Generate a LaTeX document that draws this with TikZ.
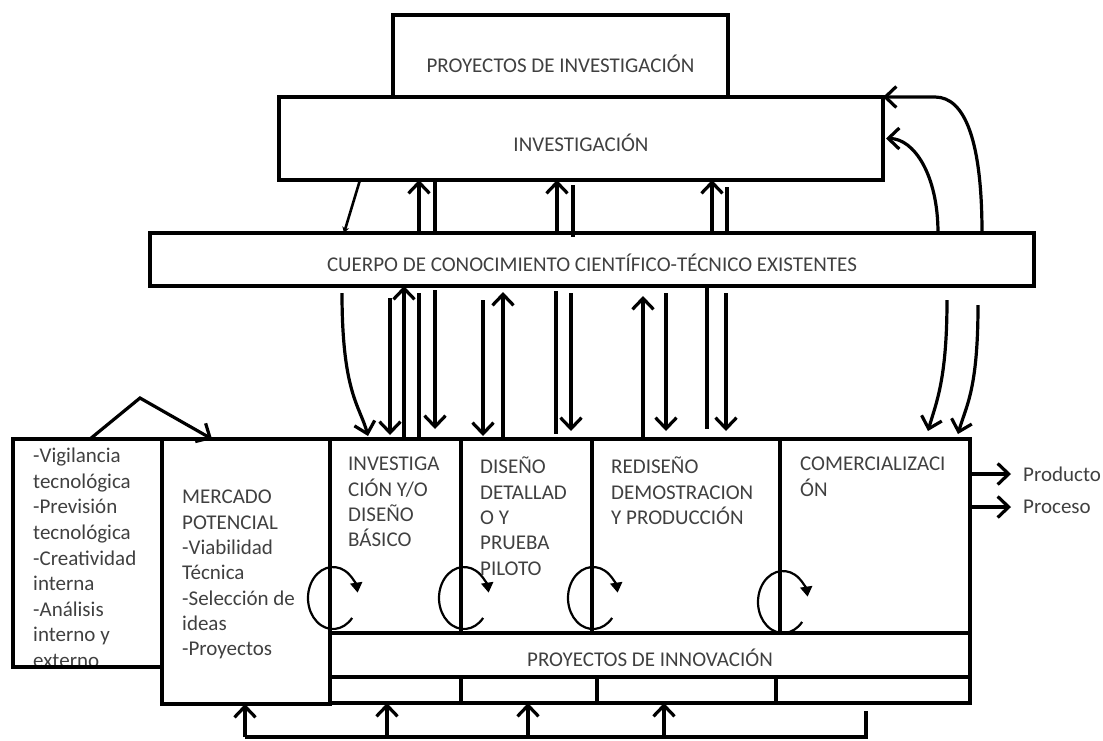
\documentclass[tikz,border=0pt]{standalone}
\usepackage{fontspec}
\setmainfont{Carlito}
\usetikzlibrary{arrows.meta}
\newcommand\fs{\fontsize{21}{25.3}\selectfont}
\begin{document}
\begin{tikzpicture}[x=1pt,y=-1pt,
  box/.style={draw,line width=3.3pt,inner sep=0pt,outer sep=0pt,anchor=north west},
  txt/.style={font=\fs,text=black!75,inner sep=0pt},
  ln/.style={line width=3.2pt},
  arr/.style={line width=3.2pt,-{Straight Barb[length=11pt,width=21pt]}},
  small/.style={line width=2.6pt,-{Stealth[length=6pt,width=7pt]}},
  loopa/.style={line width=2.2pt,-{Triangle[length=10pt,width=12pt]}}]
\useasboundingbox (0,0) rectangle (1103,740);

% boxes
\node[box,minimum width=335pt,minimum height=82pt] (pinv) at (393,15) {};
\node[box,fill=white,minimum width=604pt,minimum height=83pt] (inv) at (279,97) {};
\node[box,minimum width=884pt,minimum height=53pt] (cuerpo) at (150,233) {};
\node[txt] (pinvt) at ([yshift=-8pt]pinv.center) {PROYECTOS DE INVESTIGACIÓN};
\node[txt] (invt) at ([yshift=-4pt]inv.center) {INVESTIGACIÓN};
\node[txt] (cuerpot) at ([yshift=-3pt]cuerpo.center) {CUERPO DE CONOCIMIENTO CIENTÍFICO-TÉCNICO EXISTENTES};

\begin{scope}
\clip (13,439) rectangle (162,666);
\node[txt,anchor=north west,align=left,font=\fontsize{21}{25.6}\selectfont] (vigt) at (33,448) {-Vigilancia\\tecnológica\\-Previsión\\tecnológica\\-Creatividad\\interna\\-Análisis\\interno y\\externo};
\end{scope}
\node[box,minimum width=149pt,minimum height=228pt] (vig) at (13,439) {};
\node[box,minimum width=168pt,minimum height=265pt] (mercado) at (162,439) {};
\node[txt,anchor=north west,align=left] (mercadot) at (182,490) {MERCADO\\POTENCIAL\\-Viabilidad\\Técnica\\-Selección de\\ideas\\-Proyectos};

\node[box,minimum width=131pt,minimum height=194pt] (ph1) at (330,439) {};
\node[box,minimum width=131pt,minimum height=194pt] (ph2) at (461,439) {};
\node[box,minimum width=188pt,minimum height=194pt] (ph3) at (592,439) {};
\node[box,minimum width=190pt,minimum height=194pt] (ph4) at (780,439) {};
\node[box,minimum width=640pt,minimum height=44pt] (innov) at (330,633) {};
\node[box,minimum width=131pt,minimum height=26pt] (s1) at (330,677) {};
\node[box,minimum width=136pt,minimum height=26pt] (s2) at (461,677) {};
\node[box,minimum width=179pt,minimum height=26pt] (s3) at (597,677) {};
\node[box,minimum width=194pt,minimum height=26pt] (s4) at (776,677) {};

\node[txt,anchor=north west,align=left] (ph1t) at (348,457) {INVESTIGA\\CIÓN Y/O\\DISEÑO\\BÁSICO};
\node[txt,anchor=north west,align=left] (ph2t) at (480,457) {DISEÑO\\DETALLAD\\O Y\\PRUEBA\\PILOTO};
\node[txt,anchor=north west,align=left] (ph3t) at (611,457) {REDISEÑO\\DEMOSTRACION\\Y PRODUCCIÓN};
\node[txt,anchor=north west,align=left] (ph4t) at (800,457) {COMERCIALIZACI\\ÓN};
\node[txt] (innovt) at ([yshift=-3pt]innov.center) {PROYECTOS DE INNOVACIÓN};

\node[txt,anchor=west] (prod) at (1023,474) {Producto};
\node[txt,anchor=west] (proc) at (1023,507) {Proceso};

% loops
\coordinate (c1) at (333,598);
\coordinate (c2) at (464,598);
\coordinate (c3) at (593,598);
\coordinate (c4) at (783,602);
\foreach \c in {c1,c2,c3,c4}{
  \draw[loopa] ([shift={(40:25 and 31)}]\c) arc[start angle=40,end angle=350,x radius=25,y radius=31];
}

% investigacion <-> cuerpo
\draw[small] ([xshift=81pt]inv.south west) -- ([xshift=194pt]cuerpo.north west);
\draw[arr] ([xshift=269pt]cuerpo.north west) -- ([xshift=140pt]inv.south west);
\draw[ln] ([xshift=285pt]cuerpo.north west) -- ([xshift=156pt]inv.south west);
\draw[arr] ([xshift=407pt]cuerpo.north west) -- ([xshift=278pt]inv.south west);
\draw[ln] ([xshift=294pt,yshift=-5pt]inv.south west) -- ([xshift=423pt,yshift=-4pt]cuerpo.north west);
\draw[arr] ([xshift=562pt]cuerpo.north west) -- ([xshift=433pt]inv.south west);
\draw[ln] ([xshift=448pt,yshift=-7pt]inv.south west) -- ([xshift=577pt]cuerpo.north west);
\draw[arr] ([xshift=832pt]cuerpo.north west) .. controls +(0,-92) and +(30,0) .. ([xshift=52pt]inv.north east) -- (inv.north east);
\draw[arr] ([xshift=788pt]cuerpo.north west) .. controls +(0,-58) and +(28,0) .. ([xshift=3pt]inv.east);

% cuerpo <-> phases
\draw[arr] ([xshift=192pt,yshift=-7pt]cuerpo.south west) .. controls +(0,100) and +(-8,-30) .. ([xshift=38pt,yshift=3pt]ph1.north west);
\draw[arr] ([xshift=240pt,yshift=-12pt]cuerpo.south west) -- ([xshift=60pt,yshift=4pt]ph1.north west);
\draw[arr] ([xshift=74pt]ph1.north west) -- ([xshift=254pt]cuerpo.south west);
\draw[ln] ([xshift=269pt,yshift=-7pt]cuerpo.south west) -- ([xshift=89pt]ph1.north west);
\draw[arr] ([xshift=285pt,yshift=-4pt]cuerpo.south west) -- ([xshift=105pt,yshift=10pt]ph1.north west);
\draw[arr] ([xshift=333pt,yshift=-14pt]cuerpo.south west) -- ([xshift=22pt,yshift=3pt]ph2.north west);
\draw[arr] ([xshift=42pt]ph2.north west) -- ([xshift=353pt,yshift=-6pt]cuerpo.south west);
\draw[ln] ([xshift=406pt,yshift=-5pt]cuerpo.south west) -- ([xshift=95pt,yshift=5pt]ph2.north west);
\draw[arr] ([xshift=421pt,yshift=-7pt]cuerpo.south west) -- ([xshift=110pt,yshift=8pt]ph2.north west);
\draw[arr] ([xshift=51pt]ph3.north west) -- ([xshift=493pt,yshift=-10pt]cuerpo.south west);
\draw[arr] ([xshift=516pt,yshift=-7pt]cuerpo.south west) -- ([xshift=74pt,yshift=8pt]ph3.north west);
\draw[ln] ([xshift=557pt]cuerpo.south west) -- ([xshift=115pt,yshift=10pt]ph3.north west);
\draw[arr] ([xshift=576pt,yshift=-7pt]cuerpo.south west) -- ([xshift=134pt,yshift=8pt]ph3.north west);
\draw[arr] ([xshift=797pt,yshift=-14pt]cuerpo.south west) .. controls +(0,80) and +(8,-28) .. ([xshift=148pt,yshift=8pt]ph4.north west);
\draw[arr] ([xshift=828pt,yshift=-19pt]cuerpo.south west) .. controls +(0,85) and +(8,-28) .. ([xshift=178pt,yshift=5pt]ph4.north west);

% left input
\coordinate (peak) at (140,398);
\draw[arr] ([xshift=77pt]vig.north west) -- (peak) -- ([xshift=50pt]mercado.north west);

% outputs
\draw[arr] ([yshift=-35pt]ph4.north east) -- ([xshift=-12pt]prod.west);
\draw[arr] ([yshift=-68pt]ph4.north east) -- ([xshift=-12pt]proc.west);

% feedback
\coordinate (fb0) at (245,737);
\coordinate (fb1) at (387,737);
\coordinate (fb2) at (528,737);
\coordinate (fb3) at (664,737);
\coordinate (fbe) at (866,737);
\coordinate (fbt) at (866,711);
\draw[ln] (fb0) -- (fbe) -- (fbt);
\draw[arr] (fb0) -- (fb0 |- mercado.south);
\draw[arr] (fb1) -- (fb1 |- s1.south);
\draw[arr] (fb2) -- (fb2 |- s2.south);
\draw[arr] (fb3) -- (fb3 |- s3.south);
\end{tikzpicture}
\end{document}
